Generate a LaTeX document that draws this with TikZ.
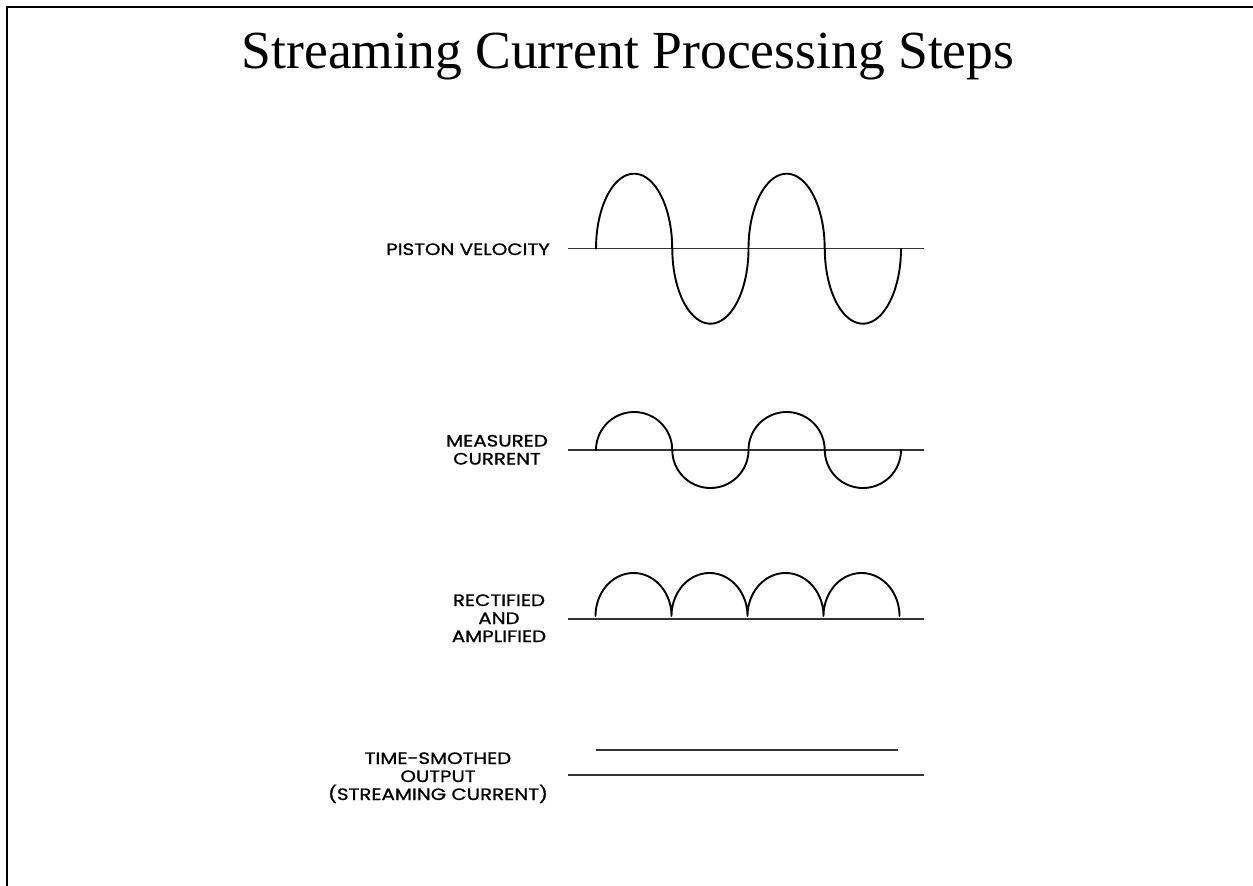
\documentclass[tikz,border=0pt]{standalone}
\usepackage{fontspec}
\setmainfont{Liberation Serif}
\newfontfamily\labelfont{Poppins}[FakeStretch=1.2,FakeBold=1]
\begin{document}
\begin{tikzpicture}[x=1pt,y=1pt,
  frameline/.style={line width=2.2pt,black},
  axisline/.style={line width=1.1pt,black!80},
  waveline/.style={line width=1.9pt,black,line join=round,line cap=round},
  lbl/.style={font=\labelfont\fontsize{16.5}{18}\selectfont,align=center,inner sep=0pt},
  ttl/.style={font=\fontsize{53.6}{60}\selectfont,inner sep=0pt},
  lobeplot/.style={domain=180:0,samples=50,smooth}]
\useasboundingbox (0,0) rectangle (1253,-886);
% page frame (top and left edges)
\draw[frameline] (7,-886) -- (7,-7) -- (1253,-7);
% title
\node[ttl,anchor=base] (title) at (628,-68) {Streaming Current Processing Steps};

% ---- piston velocity ----
\coordinate (pa) at (568,-248.7);
\coordinate (pb) at (924,-248.7);
\draw[axisline] (pa) -- (pb);
\node[lbl,anchor=base east] (piston) at (550,-255) {PISTON VELOCITY};
\draw[waveline]
  plot[lobeplot] ({634.1+38.1*cos(\x)},{-248.7+75*sin(\x)})
  -- plot[lobeplot] ({710.4+38.1*cos(\x)},{-248.7-75*sin(\x)})
  -- plot[lobeplot] ({786.6+38.1*cos(\x)},{-248.7+75*sin(\x)})
  -- plot[lobeplot] ({862.9+38.1*cos(\x)},{-248.7-75*sin(\x)});

% ---- measured current (base = last line) ----
\coordinate (ma) at (568,-450);
\coordinate (mb) at (924,-450);
\draw[axisline] (ma) -- (mb);
\node[lbl,anchor=base] (measured) at (497,-464.5) {MEASURED\\CURRENT};
\draw[waveline]
  plot[lobeplot] ({634.1+38.1*cos(\x)},{-450+38*sin(\x)})
  -- plot[lobeplot] ({710.4+38.1*cos(\x)},{-450-38*sin(\x)})
  -- plot[lobeplot] ({786.6+38.1*cos(\x)},{-450+38*sin(\x)})
  -- plot[lobeplot] ({862.9+38.1*cos(\x)},{-450-38*sin(\x)});

% ---- rectified and amplified ----
\coordinate (ra) at (568,-619);
\coordinate (rb) at (924,-619);
\draw[axisline] (ra) -- (rb);
\node[lbl,anchor=base] (rectified) at (499,-642) {RECTIFIED\\AND\\AMPLIFIED};
\draw[waveline]
  plot[lobeplot] ({633.5+38*cos(\x)},{-616+43*sin(\x)})
  -- plot[lobeplot] ({709.5+38*cos(\x)},{-616+43*sin(\x)})
  -- plot[lobeplot] ({785.5+38*cos(\x)},{-616+43*sin(\x)})
  -- plot[lobeplot] ({861.5+38*cos(\x)},{-616+43*sin(\x)});

% ---- time-smoothed output ----
\coordinate (ta) at (568,-775);
\coordinate (tb) at (924,-775);
\coordinate (sa) at (596,-750);
\coordinate (sb) at (898,-750);
\draw[axisline] (ta) -- (tb);
\draw[axisline,line width=1.3pt] (sa) -- (sb);
\node[lbl,anchor=base] (smoothed) at (438,-800) {TIME-SMOTHED\\OUTPUT\\(STREAMING CURRENT)};
\end{tikzpicture}
\end{document}
